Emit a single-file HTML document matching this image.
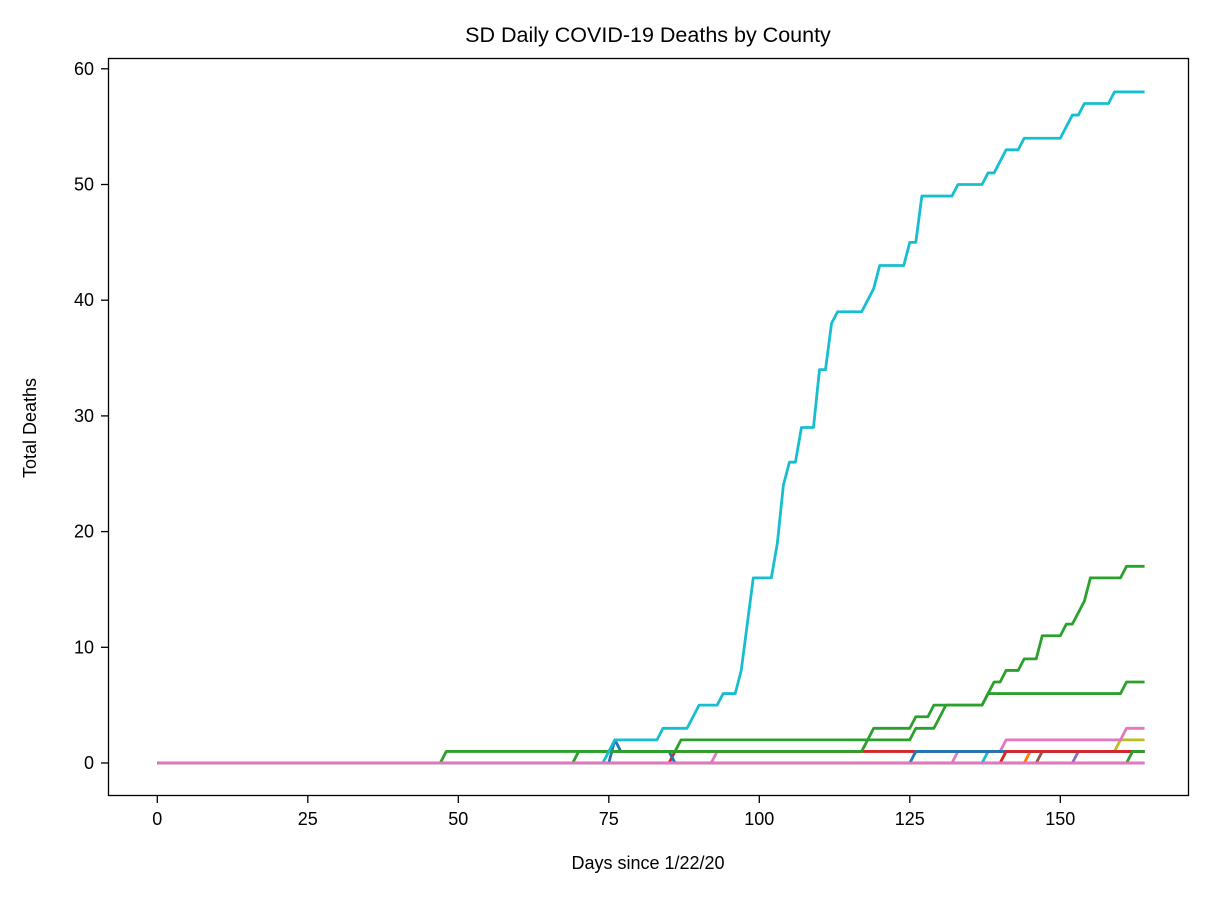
<!DOCTYPE html>
<html><head><meta charset="utf-8"><style>
html,body{margin:0;padding:0;background:#fff;}
svg{display:block;font-family:"Liberation Sans","DejaVu Sans",sans-serif;}
</style></head><body>
<svg id="chart" width="1208" height="897" viewBox="0 0 1208 897">
<text x="648" y="42" font-size="21.5" text-anchor="middle">SD Daily COVID-19 Deaths by County</text>
<g id="grid-ticks"></g>
<g id="series"></g>
<rect x="108.5" y="58.5" width="1080" height="737" fill="none" stroke="#000" stroke-width="1.3"/>
<text x="648" y="869" font-size="18" text-anchor="middle">Days since 1/22/20</text>
<text x="36" y="428" font-size="18" text-anchor="middle" transform="rotate(-90 36 428)">Total Deaths</text>
</svg>
<script>
const xTicks = [0,25,50,75,100,125,150];
const yTicks = [0,10,20,30,40,50,60];
const nDays = 165;
// step breakpoints: [days], [values]
const grayDays=[0], grayVals=[0];
const orangeDays=[0,145], orangeVals=[0,1];
const greenBigDays=[0,48,87,126,130,131,138,139,141,144,147,151,153,154,155,161];
const greenBigVals=[0,1,2,3,4,5,6,7,8,9,11,12,13,14,16,17];
const red1Days=[0,86], red1Vals=[0,1];
const purpleDays=[0,153], purpleVals=[0,1];
const brownDays=[0,147], brownVals=[0,1];
const pink1Days=[0,93,141,161], pink1Vals=[0,1,2,3];
const cyanBigDays=[0,75,76,84,89,90,94,97,98,99,103,104,105,107,110,112,113,118,119,120,125,127,133,138,140,141,144,151,152,154,159];
const cyanBigVals=[0,1,2,3,4,5,6,8,12,16,19,24,26,29,34,38,39,40,41,43,45,49,50,51,52,53,54,55,56,57,58];
const greenSmallDays=[0,70,118,119,126,129,138,161], greenSmallVals=[0,1,2,3,4,5,6,7];
const pink2Days=[0,133], pink2Vals=[0,1];
const cyanSmallDays=[0,138], cyanSmallVals=[0,1];
const oliveDays=[0,141,160], oliveVals=[0,1,2];
const blueDays=[0,76,77,86,126], blueVals=[0,2,1,0,1];
const red2Days=[0,141], red2Vals=[0,1];
const green3Days=[0,162], green3Vals=[0,1];
const pinkZeroDays=[0], pinkZeroVals=[0];

const X = d => 157.3 + d*6.02;
const Y = v => 763 - v*11.57;
const NS = "http://www.w3.org/2000/svg";
const tg = document.getElementById('grid-ticks');
function mk(tag, attrs){const e=document.createElementNS(NS,tag);for(const k in attrs)e.setAttribute(k,attrs[k]);return e;}
xTicks.forEach(t=>{
  const l=mk('line',{x1:X(t),x2:X(t),y1:796,y2:803,stroke:'#000','stroke-width':1.3});
  
  
  tg.appendChild(l);
  const tx=mk('text',{x:X(t),y:825,'font-size':18,'text-anchor':'middle'});
  tx.textContent=t;
  
  
  tg.appendChild(tx);
});
yTicks.forEach(t=>{
  const l=mk('line',{x1:101,x2:108,y1:Y(t),y2:Y(t),stroke:'#000','stroke-width':1.3});
  
  
  tg.appendChild(l);
  const tx=mk('text',{x:94,y:Y(t)+6,'font-size':18,'text-anchor':'end'});
  tx.textContent=t;
  
  
  tg.appendChild(tx);
});
function expand(days, vals){
  const out=[];let j=0;
  for(let d=0;d<nDays;d++){while(j+1<days.length&&days[j+1]<=d)j++;out.push(vals[j]);}
  return out;
}
const seriesList=[
  ['gray-county',grayDays,grayVals,'#7f7f7f'],
  ['orange-county',orangeDays,orangeVals,'#ff7f0e'],
  ['purple-county',purpleDays,purpleVals,'#9467bd'],
  ['brown-county',brownDays,brownVals,'#8c564b'],
  ['pink-county-2',pink2Days,pink2Vals,'#e377c2'],
  ['cyan-county-small',cyanSmallDays,cyanSmallVals,'#17becf'],
  ['olive-county',oliveDays,oliveVals,'#bcbd22'],
  ['pink-county-1',pink1Days,pink1Vals,'#e377c2'],
  ['red-county-1',red1Days,red1Vals,'#d62728'],
  ['blue-county',blueDays,blueVals,'#1f77b4'],
  ['red-county-2',red2Days,red2Vals,'#d62728'],
  ['green-county-big',greenBigDays,greenBigVals,'#2ca02c'],
  ['green-county-small',greenSmallDays,greenSmallVals,'#2ca02c'],
  ['cyan-county-big',cyanBigDays,cyanBigVals,'#17becf'],
  ['green-county-3',green3Days,green3Vals,'#2ca02c'],
  ['pink-county-zero',pinkZeroDays,pinkZeroVals,'#e377c2']
];
const sg=document.getElementById('series');
seriesList.forEach(s=>{
  const v=expand(s[1],s[2]);
  const pts=v.map((y,i)=>X(i).toFixed(2)+','+Y(y).toFixed(2)).join(' ');
  const p=mk('polyline',{points:pts,fill:'none',stroke:s[3],'stroke-width':2.8,'stroke-linejoin':'round'});
  
  
  sg.appendChild(p);
});
</script>
</body></html>
